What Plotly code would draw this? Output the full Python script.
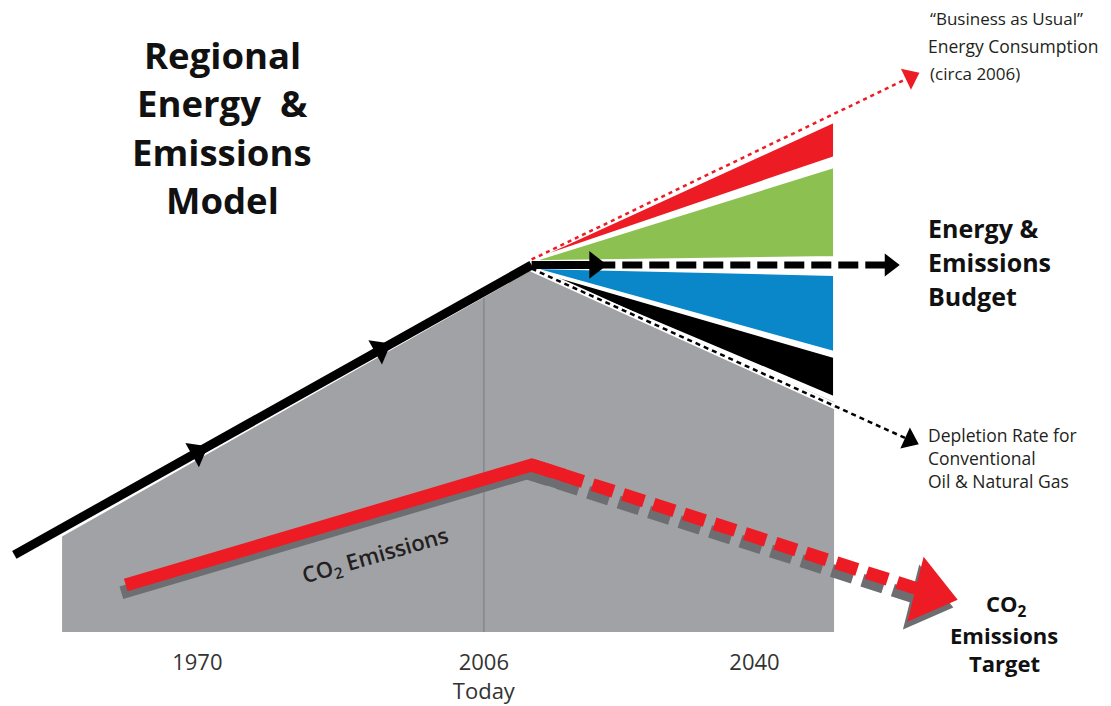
import plotly.graph_objects as go

# ---------------- data (years, energy index: peak = 100) ----------------
hist_years = [1947, 1970, 1993, 2012]
hist_energy = [21.0, 49.0, 77.0, 100.0]

area_years = [1953, 1953, 2012, 2050, 2050]
area_energy = [0.0, 26.0, 98.6, 62.7, 0.0]

today_year = 2006
today_top = 91.0

budget_years = [2012, 2020, 2057]
budget_energy = [100.0, 100.0, 100.0]

bau_years = [2012, 2059.6]
bau_energy = [101.5, 151.2]

depl_years = [2012, 2059.5]
depl_energy = [99.0, 52.3]

apex_year = 2012
wedge_year = 2050
wedge_names = ["BAU gap", "Efficiency", "Renewables", "Fossil"]
wedge_apex = [101.3, 101.0, 99.2, 98.8]
wedge_upper = [139.0, 126.7, 97.3, 74.9]
wedge_lower = [129.4, 102.2, 76.3, 64.0]
wedge_colors = ["#ed1c24", "#8cc152", "#0a87c9", "#000000"]

co2_years = [1961, 2012, 2016]
co2_values = [12.8, 45.5, 42.8]
co2_target_years = [2012, 2058.5, 2062.0]
co2_target_values = [45.5, 12.6, 10.7]

tick_years = [1970, 2006, 2040]
tick_text = ["1970", "2006<br>Today", "2040"]

# ---------------- figure ----------------
W, H, PLOT_H = 1111, 706, 632
X0, X1 = 1945.2, 2084.8
Y0, Y1 = 0.0, 172.2

fig = go.Figure()


def arrow_marker(sizes, color, symbol="triangle-up"):
    return dict(symbol=symbol, size=sizes, color=color, opacity=1,
                line=dict(width=0), angleref="previous")


# gray area
fig.add_trace(go.Scatter(x=area_years, y=area_energy, fill="toself", mode="lines",
                         fillcolor="#a1a2a6", line=dict(width=0), hoverinfo="skip"))
# "today" vertical line
fig.add_trace(go.Scatter(x=[today_year, today_year], y=[0, today_top], mode="lines",
                         line=dict(color="#86878b", width=1.5), hoverinfo="skip"))

# wedges
for name, a, u, l, c in zip(wedge_names, wedge_apex, wedge_upper, wedge_lower, wedge_colors):
    fig.add_trace(go.Scatter(x=[apex_year, wedge_year, wedge_year, apex_year],
                             y=[a, u, l, a], fill="toself", mode="lines", name=name,
                             fillcolor=c, line=dict(color="white", width=2), hoverinfo="skip"))

# BAU red dotted arrow
fig.add_trace(go.Scatter(x=bau_years, y=bau_energy, mode="lines+markers",
                         line=dict(color="#ed1c24", width=2.5, dash="4px,4px"),
                         marker=arrow_marker([0, 20], "#ed1c24"), hoverinfo="skip"))

# depletion dotted arrow
fig.add_trace(go.Scatter(x=depl_years, y=depl_energy, mode="lines",
                         line=dict(color="white", width=6), hoverinfo="skip"))
fig.add_trace(go.Scatter(x=depl_years, y=depl_energy, mode="lines+markers",
                         line=dict(color="black", width=2.5, dash="5px,4px"),
                         marker=arrow_marker([0, 20], "black"), hoverinfo="skip"))

# historical black line with arrows
fig.add_trace(go.Scatter(x=hist_years, y=hist_energy, mode="lines",
                         line=dict(color="black", width=9), hoverinfo="skip"))
fig.add_trace(go.Scatter(x=hist_years[:3], y=hist_energy[:3], mode="markers",
                         marker=arrow_marker([0, 24, 24], "black"), hoverinfo="skip"))

# budget line: solid to first arrow, then dashed
fig.add_trace(go.Scatter(x=budget_years[:2], y=budget_energy[:2], mode="lines+markers",
                         line=dict(color="black", width=8),
                         marker=arrow_marker([0, 24], "black"), hoverinfo="skip"))
fig.add_trace(go.Scatter(x=budget_years[1:], y=budget_energy[1:], mode="lines+markers",
                         line=dict(color="black", width=7, dash="20px,7px"),
                         marker=arrow_marker([0, 20], "black"), hoverinfo="skip"))

# CO2 line with shadow
SDX, SDY = -0.55, -2.1
for col, dx, dy in [("#6d6e71", SDX, SDY), ("#ed1c24", 0, 0)]:
    fig.add_trace(go.Scatter(x=[v + dx for v in co2_years], y=[v + dy for v in co2_values],
                             mode="lines", line=dict(color=col, width=13), hoverinfo="skip"))
    fig.add_trace(go.Scatter(x=[v + dx for v in co2_target_years],
                             y=[v + dy for v in co2_target_values], mode="lines+markers",
                             line=dict(color=col, width=13, dash="22px,10px"),
                             marker=arrow_marker([0, 0, 58], col, "triangle-up"),
                             hoverinfo="skip"))

FONT = "Open Sans"
TXT = "#231f20"


def P(xp, yp):
    return xp / W, (PLOT_H - yp) / PLOT_H


annotations = []


def add_text(text, xp, yp, size, bold=False, xanchor="left", color=TXT, weight=None):
    x, y = P(xp, yp)
    annotations.append(dict(text=text, x=x, y=y, xref="paper", yref="paper",
                            xanchor=xanchor, yanchor="middle", showarrow=False,
                            font=dict(family=FONT, size=size, color=color,
                                      weight=(weight if weight else (700 if bold else 400)))))


# title
for line, yp in zip(["Regional", "Energy  &", "Emissions", "Model"], [55, 103, 152, 200]):
    add_text(line, 222, yp, 36.5, bold=True, xanchor="center", color="#111")

# BAU label
add_text("\u201cBusiness as Usual\u201d", 928, 18, 17)
add_text("Energy Consumption", 926, 46, 17.5)
add_text("(circa 2006)", 928, 74, 17)

# Budget label
for line, yp in zip(["Energy &", "Emissions", "Budget"], [228, 262, 296]):
    add_text(line, 926, yp, 25, bold=True, color="#111")

# Depletion label
for line, yp in zip(["Depletion Rate for", "Conventional", "Oil & Natural Gas"], [435, 458, 481]):
    add_text(line, 926, yp, 17.5)

# CO2 target label
add_text("CO<sub>2</sub>", 1006, 605, 22, bold=True, xanchor="center", color="#111")
add_text("Emissions", 1004, 635, 22, bold=True, xanchor="center", color="#111")
add_text("Target", 1004, 663, 22, bold=True, xanchor="center", color="#111")

# CO2 emissions label along the line
annotations.append(dict(text="CO<sub>2</sub> Emissions", x=1992.4, y=20.6, xref="x", yref="y",
                        showarrow=False, textangle=-16,
                        font=dict(family=FONT, size=22, color=TXT, weight=600)))

fig.update_layout(
    width=W, height=H,
    margin=dict(l=0, r=0, t=0, b=H - PLOT_H),
    paper_bgcolor="white", plot_bgcolor="white",
    showlegend=False,
    annotations=annotations,
    xaxis=dict(range=[X0, X1], showgrid=False, zeroline=False, showline=False,
               tickvals=tick_years, ticktext=tick_text, ticks="",
               tickfont=dict(family=FONT, size=22, color="#333"), ticklabelstandoff=15,
               fixedrange=True),
    yaxis=dict(range=[Y0, Y1], showgrid=False, zeroline=False, showline=False,
               showticklabels=False, fixedrange=True),
)

fig.write_html("out.html", config={"displayModeBar": False},
               post_script="document.body.style.margin='0px';document.body.style.overflow='hidden';")
